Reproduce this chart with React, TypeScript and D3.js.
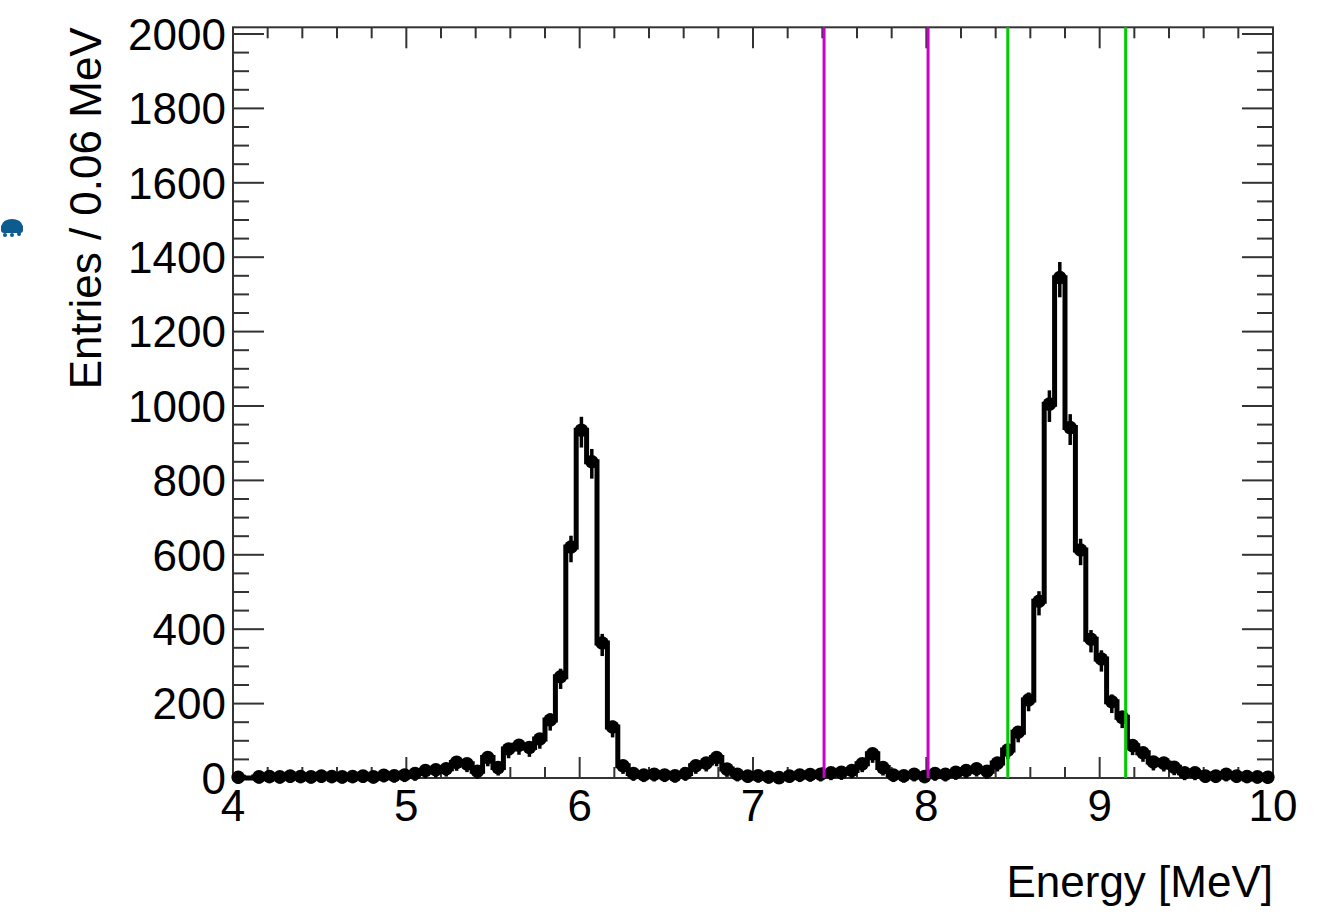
import React from "react";
import * as d3 from "d3";

// Histogram: 100 bins of 0.06 MeV from 4 to 10 MeV
const binLow = 4.0;
const binWidth = 0.06;
const counts: number[] = [
  2, 0, 3, 4, 3, 5, 4, 3, 5, 4,
  3, 4, 5, 3, 7, 6, 8, 12, 20, 22,
  25, 42, 38, 18, 55, 28, 78, 88, 82, 105,
  156, 272, 621, 935, 850, 363, 137, 33, 12, 8,
  10, 8, 6, 12, 33, 40, 55, 24, 10, 5,
  6, 3, 1, 5, 8, 9, 10, 14, 15, 20,
  38, 65, 28, 8, 6, 10, 4, 12, 10, 15,
  20, 25, 18, 40, 75, 123, 210, 475, 1005, 1345,
  942, 613, 373, 320, 205, 163, 87, 68, 43, 40,
  29, 14, 14, 5, 5, 10, 5, 4, 3, 2,
];

const xTicks = [4, 5, 6, 7, 8, 9, 10];
const yTicks = [0, 200, 400, 600, 800, 1000, 1200, 1400, 1600, 1800, 2000];
const magentaLines = [7.41, 8.01];
const greenLines = [8.47, 9.15];

const xTitle = "Energy [MeV]";
const yTitle = "Entries / 0.06 MeV";

const W = 1333;
const H = 923;
const FL = 233;
const FR = 1273;
const FT = 27.3;
const FB = 778;
const FONT = "'Liberation Sans', Arial, Helvetica, sans-serif";

export default function App() {
  const x = d3.scaleLinear().domain([4, 10]).range([FL, FR]);
  const y = d3.scaleLinear().domain([0, 2018]).range([FB, FT]);

  const stepPts: [number, number][] = counts.map((c, i) => [binLow + i * binWidth, c]);
  stepPts.push([binLow + counts.length * binWidth, counts[counts.length - 1]]);
  const stepLine = d3
    .line<[number, number]>()
    .x((d) => x(d[0]))
    .y((d) => y(d[1]))
    .curve(d3.curveStepAfter);

  const xMinor = d3.range(0, 31).map((i) => 4 + i * 0.2);
  const yMinor = d3.range(0, 41).map((i) => i * 50);

  const axisColor = "#333";

  return (
    <svg
      width={W}
      height={H}
      style={{ position: "absolute", left: 0, top: 0, background: "#fff" }}
    >
      {/* small blue artifact at left */}
      <g fill="#0d5b8f">
        <ellipse cx={12} cy={225} rx={10} ry={6} />
        <rect x={1} y={224} width={22} height={9} rx={3} />
        <circle cx={5} cy={235} r={2} />
        <circle cx={12} cy={235} r={2} />
        <circle cx={19} cy={234} r={2} />
      </g>

      {/* frame */}
      <rect
        x={FL}
        y={FT}
        width={FR - FL}
        height={FB - FT}
        fill="none"
        stroke={axisColor}
        strokeWidth={2}
      />

      {/* x ticks bottom & top */}
      {xMinor.map((v, i) => {
        const major = Math.abs(v - Math.round(v)) < 1e-6;
        const len = major ? 21 : 11;
        return (
          <g key={"xt" + i} stroke={axisColor} strokeWidth={2}>
            <line x1={x(v)} x2={x(v)} y1={FB} y2={FB - len} />
            <line x1={x(v)} x2={x(v)} y1={FT} y2={FT + len} />
          </g>
        );
      })}

      {/* y ticks left & right */}
      {yMinor.map((v, i) => {
        const major = v % 200 === 0;
        const len = major ? 31 : 16;
        return (
          <g key={"yt" + i} stroke={axisColor} strokeWidth={2}>
            <line x1={FL} x2={FL + len} y1={y(v)} y2={y(v)} />
            <line x1={FR} x2={FR - len} y1={y(v)} y2={y(v)} />
          </g>
        );
      })}

      {/* tick labels */}
      {xTicks.map((v) => (
        <text
          key={"xl" + v}
          x={x(v)}
          y={821}
          textAnchor="middle"
          fontFamily={FONT}
          fontSize={44}
          fill="#000"
        >
          {v}
        </text>
      ))}
      {yTicks.map((v) => (
        <text
          key={"yl" + v}
          x={226}
          y={y(v)}
          dy="0.36em"
          textAnchor="end"
          fontFamily={FONT}
          fontSize={44}
          fill="#000"
        >
          {v}
        </text>
      ))}

      {/* axis titles */}
      <text
        x={FR}
        y={897}
        textAnchor="end"
        fontFamily={FONT}
        fontSize={44}
        fill="#000"
      >
        {xTitle}
      </text>
      <text
        transform={`translate(101, ${FT}) rotate(-90)`}
        textAnchor="end"
        fontFamily={FONT}
        fontSize={44}
        fill="#000"
      >
        {yTitle}
      </text>

      {/* histogram step line */}
      <path d={stepLine(stepPts) || ""} fill="none" stroke="#000" strokeWidth={5} />

      {/* error bars and markers */}
      {counts.map((c, i) => {
        if (c <= 0) return null;
        const cx = x(binLow + (i + 0.5) * binWidth);
        const e = Math.sqrt(c);
        return (
          <g key={"m" + i}>
            <line
              x1={cx}
              x2={cx}
              y1={y(Math.max(0, c - e)) + 6}
              y2={y(c + e) - 2}
              stroke="#000"
              strokeWidth={3.5}
            />
            <circle cx={cx} cy={y(c)} r={6.8} fill="#000" />
          </g>
        );
      })}

      {/* vertical marker lines */}
      {magentaLines.map((v) => (
        <line
          key={"mg" + v}
          x1={x(v)}
          x2={x(v)}
          y1={FB}
          y2={FT}
          stroke="#cc00cc"
          strokeWidth={3}
        />
      ))}
      {greenLines.map((v) => (
        <line
          key={"gr" + v}
          x1={x(v)}
          x2={x(v)}
          y1={FB}
          y2={FT}
          stroke="#00cc00"
          strokeWidth={3}
        />
      ))}
    </svg>
  );
}
